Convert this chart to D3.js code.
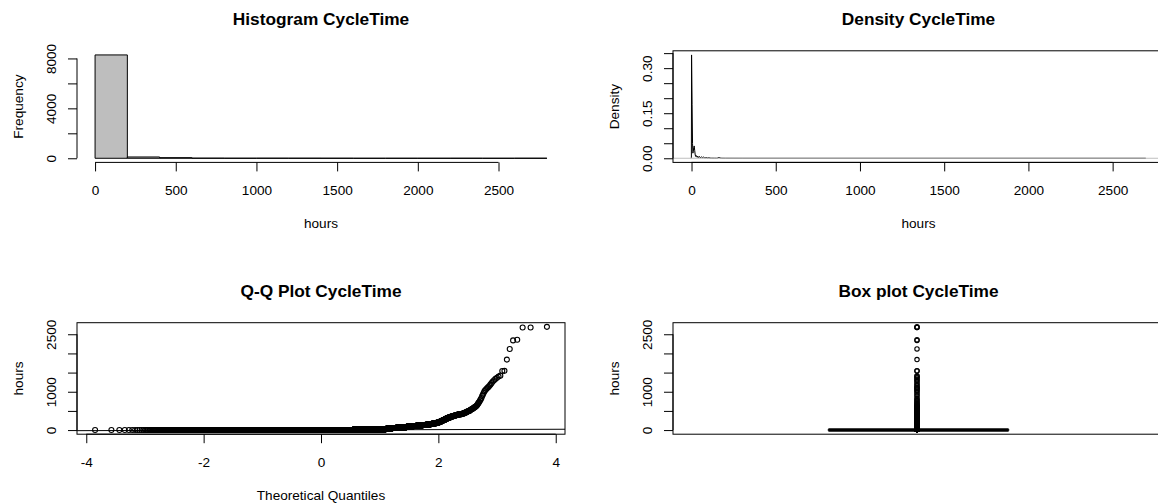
<!DOCTYPE html>
<html><head><meta charset="utf-8">
<script src="https://cdn.jsdelivr.net/npm/d3@7"></script>
<style>
html,body{margin:0;padding:0;background:#fff;}
svg{display:block;}
</style></head><body>
<svg id="chart" width="1158" height="504"></svg>
<script>
// ---------------- data ----------------
const panelTitles = ["Histogram CycleTime", "Density CycleTime", "Q-Q Plot CycleTime", "Box plot CycleTime"];

// bulk of the CycleTime sample: value levels (hours) and how many observations sit at each
const bulkHours = [0, 1, 2, 3, 4, 6, 8, 11, 14, 17, 20, 24, 28, 33, 38, 43,
  48, 55, 62, 70, 78, 86, 94, 100,
  108, 116, 124, 132, 140, 148,
  160, 170, 180, 190, 199, 210,
  225, 240, 255, 270, 285, 298,
  315, 330, 345, 360, 375,
  395, 405, 415, 425,
  445, 460, 475, 490, 505];
const bulkCounts = [3100, 1500, 900, 500, 350, 300, 200, 150, 120, 100, 60, 40, 30, 25, 20, 15,
  110, 100, 90, 80, 70, 50, 40, 36,
  50, 45, 40, 33, 27, 23,
  22, 19, 16, 12, 9, 8,
  10, 9, 8, 7, 6, 6,
  9, 8, 8, 8, 8,
  8, 8, 7, 6,
  4, 4, 3, 3, 3];
// upper tail, one value per observation
const tailHours = [522, 528, 535, 542, 550, 558, 566, 575, 585, 595, 605, 615, 628, 640,
  665, 690, 715, 740, 770, 800, 835,
  890, 930, 975, 1015,
  1045, 1070, 1095, 1120, 1150,
  1185, 1225, 1265, 1300,
  1335, 1365, 1395, 1420,
  1541, 1545, 1839, 2117, 2340, 2357, 2676, 2676, 2694];

// density curve as drawn
const densityHours = [-2, -0.8, 0.3, 3.5, 6, 8, 10.5, 13, 16, 19, 22, 25, 28, 31, 34, 37, 40, 43, 47, 51, 55, 59, 63, 67, 71, 76, 81, 86, 91, 97, 103, 110, 120, 135, 150, 158, 163, 168, 180, 200, 300, 2697];
const densityValues = [0, 0.004, 0.344, 0.178, 0.05, 0.017, 0.022, 0.036, 0.041, 0.025, 0.011, 0.006, 0.009, 0.005, 0.003, 0.007, 0.004, 0.002, 0.006, 0.003, 0.002, 0.005, 0.003, 0.002, 0.004, 0.002, 0.001, 0.003, 0.0015, 0.0008, 0.002, 0.0006, 0.0004, 0.0003, 0.0002, 0.001, 0.004, 0.001, 0.0002, 0.0001, 0, 0];

// histogram breaks and axis ticks
const histBreaks = [0, 200, 400, 600, 800, 1000, 1200, 1400, 1600, 1800, 2000, 2200, 2400, 2600, 2800];
const hoursTicks = [0, 500, 1000, 1500, 2000, 2500];
const hoursTickLabels = ["0", "500", "1000", "1500", "2000", "2500"];
const freqTicks = [0, 2000, 4000, 6000, 8000];
const freqTickLabels = ["0", "", "4000", "", "8000"];
const densTicks = [0, 0.05, 0.10, 0.15, 0.20, 0.25, 0.30, 0.35];
const densTickLabels = ["0.00", "", "", "0.15", "", "", "0.30", ""];
const qqTicks = [-4, -2, 0, 2, 4];
const qqTickLabels = ["-4", "-2", "0", "2", "4"];
const hoursYLabels = ["0", "", "1000", "", "", "2500"];

// ---------------- helpers ----------------
const FONT = "'Liberation Sans', Arial, Helvetica, sans-serif";
const svg = d3.select("#chart");
const ext = ([a, b]) => [a - 0.04 * (b - a), b + 0.04 * (b - a)];

function qnorm(p) {
  const a = [-3.969683028665376e+01, 2.209460984245205e+02, -2.759285104469687e+02, 1.383577518672690e+02, -3.066479806614716e+01, 2.506628277459239e+00];
  const b = [-5.447609879822406e+01, 1.615858368580409e+02, -1.556989798598866e+02, 6.680131188771972e+01, -1.328068155288572e+01];
  const c = [-7.784894002430293e-03, -3.223964580411365e-01, -2.400758277161838e+00, -2.549732539343734e+00, 4.374664141464968e+00, 2.938163982698783e+00];
  const d = [7.784695709041462e-03, 3.224671290700398e-01, 2.445134137142996e+00, 3.754408661907416e+00];
  const pl = 0.02425, ph = 1 - pl;
  let q, r;
  if (p < pl) { q = Math.sqrt(-2 * Math.log(p)); return (((((c[0]*q+c[1])*q+c[2])*q+c[3])*q+c[4])*q+c[5]) / ((((d[0]*q+d[1])*q+d[2])*q+d[3])*q+1); }
  if (p > ph) { q = Math.sqrt(-2 * Math.log(1 - p)); return -(((((c[0]*q+c[1])*q+c[2])*q+c[3])*q+c[4])*q+c[5]) / ((((d[0]*q+d[1])*q+d[2])*q+d[3])*q+1); }
  q = p - 0.5; r = q * q;
  return (((((a[0]*r+a[1])*r+a[2])*r+a[3])*r+a[4])*r+a[5])*q / (((((b[0]*r+b[1])*r+b[2])*r+b[3])*r+b[4])*r+1);
}

// sorted sample
const sample = [];
bulkHours.forEach((h, i) => { for (let k = 0; k < bulkCounts[i]; k++) sample.push(h); });
tailHours.forEach(h => sample.push(h));
sample.sort((a, b) => a - b);
const n = sample.length;

// layout (plot regions)
const LEFT = { l: 77, r: 565 }, RIGHT = { l: 673, r: 1164 };
const TOP = { t: 50.8, b: 162.4 }, BOT = { t: 322.7, b: 434.2 };

function title(cx, r, txt) {
  svg.append("text").attr("x", cx).attr("y", r.t - 25.8).attr("text-anchor", "middle")
    .attr("font-family", FONT).attr("font-weight", "bold").attr("font-size", 17.3).attr("fill", "#000").text(txt);
}
function xTitle(cx, r, txt) {
  svg.append("text").attr("x", cx).attr("y", r.b + 66).attr("text-anchor", "middle")
    .attr("font-family", FONT).attr("font-size", 13.6).attr("fill", "#000").text(txt);
}
function yTitle(c, r, txt) {
  const cy = (r.t + r.b) / 2, x = c.l - 53.7;
  svg.append("text").attr("transform", `translate(${x},${cy}) rotate(-90)`).attr("text-anchor", "middle")
    .attr("font-family", FONT).attr("font-size", 13.6).attr("fill", "#000").text(txt);
}
function bottomAxis(scale, ticks, labels, yPos) {
  const ax = d3.axisBottom(scale).tickValues(ticks).tickSize(9).tickSizeOuter(0).tickPadding(14)
    .tickFormat((d, i) => labels[i]);
  const a = svg.append("g").attr("transform", `translate(0,${yPos})`).call(ax);
  a.attr("font-family", FONT).attr("font-size", 13.6);
  a.select(".domain").remove();
  a.append("line").attr("x1", scale(ticks[0])).attr("x2", scale(ticks[ticks.length - 1]))
    .attr("stroke", "#000");
  a.selectAll(".tick line").attr("stroke", "#000");
  a.selectAll(".tick text").attr("fill", "#000");
}
function leftAxis(scale, ticks, labels, xPos) {
  const ax = d3.axisLeft(scale).tickValues(ticks).tickSize(9).tickSizeOuter(0)
    .tickFormat((d, i) => labels[i]);
  const a = svg.append("g").attr("transform", `translate(${xPos},0)`).call(ax);
  a.attr("font-family", FONT).attr("font-size", 13.6);
  a.select(".domain").remove();
  a.append("line").attr("y1", scale(ticks[0])).attr("y2", scale(ticks[ticks.length - 1]))
    .attr("stroke", "#000");
  a.selectAll(".tick line").attr("stroke", "#000");
  a.selectAll(".tick text").attr("fill", "#000").attr("x", 0).attr("y", -21.3).attr("dy", null)
    .attr("text-anchor", "middle").attr("transform", "rotate(-90)");
}
function frame(c, r) {
  svg.append("rect").attr("x", c.l).attr("y", r.t).attr("width", c.r - c.l).attr("height", r.b - r.t)
    .attr("fill", "none").attr("stroke", "#000").attr("stroke-width", 1);
}

// ---------------- 1. Histogram ----------------
{
  const counts = histBreaks.slice(1).map(() => 0);
  sample.forEach(v => {
    let idx = Math.max(0, Math.ceil(v / (histBreaks[1] - histBreaks[0])) - 1);
    counts[Math.min(idx, counts.length - 1)]++;
  });
  const x = d3.scaleLinear().domain(ext([histBreaks[0], histBreaks[histBreaks.length - 1]])).range([LEFT.l, LEFT.r]);
  const y = d3.scaleLinear().domain(ext([0, d3.max(counts)])).range([TOP.b, TOP.t]);
  svg.append("g").selectAll("path").data(counts).join("path")
    .attr("d", (c, i) => {
      const p = d3.path();
      p.moveTo(x(histBreaks[i]), y(0)); p.lineTo(x(histBreaks[i]), y(c));
      p.lineTo(x(histBreaks[i + 1]), y(c)); p.lineTo(x(histBreaks[i + 1]), y(0)); p.closePath();
      return p.toString();
    })
    .attr("fill", "#BEBEBE").attr("stroke", "#000").attr("stroke-width", 1);
  bottomAxis(x, hoursTicks, hoursTickLabels, TOP.b);
  leftAxis(y, freqTicks, freqTickLabels, LEFT.l);
  title((LEFT.l + LEFT.r) / 2, TOP, panelTitles[0]);
  xTitle((LEFT.l + LEFT.r) / 2, TOP, "hours");
  yTitle(LEFT, TOP, "Frequency");
}

// ---------------- 2. Density ----------------
{
  const x = d3.scaleLinear().domain(ext(d3.extent(densityHours))).range([RIGHT.l, RIGHT.r]);
  const y = d3.scaleLinear().domain(ext([0, d3.max(densityValues)])).range([TOP.b, TOP.t]);
  const pts = densityHours.map((h, i) => [h, densityValues[i]]);
  svg.append("path").attr("d", d3.line().x(d => x(d[0])).y(d => y(d[1]))(pts))
    .attr("fill", "none").attr("stroke", "#000").attr("stroke-width", 1);
  // zero line drawn on top, in gray
  svg.append("line").attr("x1", RIGHT.l).attr("x2", RIGHT.r).attr("y1", y(0)).attr("y2", y(0))
    .attr("stroke", "#BEBEBE").attr("stroke-width", 1.2);
  frame(RIGHT, TOP);
  bottomAxis(x, hoursTicks, hoursTickLabels, TOP.b);
  leftAxis(y, densTicks, densTickLabels, RIGHT.l);
  title((RIGHT.l + RIGHT.r) / 2, TOP, panelTitles[1]);
  xTitle((RIGHT.l + RIGHT.r) / 2, TOP, "hours");
  yTitle(RIGHT, TOP, "Density");
}

// ---------------- 3. Q-Q plot ----------------
{
  const theo = sample.map((v, i) => qnorm((i + 1 - 0.5) / n));
  const x = d3.scaleLinear().domain(ext(d3.extent(theo))).range([LEFT.l, LEFT.r]);
  const y = d3.scaleLinear().domain(ext(d3.extent(sample))).range([BOT.b, BOT.t]);
  const clipId = "qqclip";
  svg.append("clipPath").attr("id", clipId).append("rect")
    .attr("x", LEFT.l).attr("y", BOT.t).attr("width", LEFT.r - LEFT.l).attr("height", BOT.b - BOT.t);
  svg.append("g").selectAll("circle").data(sample).join("circle")
    .attr("cx", (v, i) => x(theo[i])).attr("cy", v => y(v)).attr("r", 2.5)
    .attr("fill", "none").attr("stroke", "#000").attr("stroke-width", 1.1);
  // qqline through the quartiles
  const q1 = d3.quantileSorted(sample, 0.25), q3 = d3.quantileSorted(sample, 0.75);
  const z1 = qnorm(0.25), z3 = qnorm(0.75);
  const slope = (q3 - q1) / (z3 - z1), icpt = q1 - slope * z1;
  const [xa, xb] = x.domain();
  svg.append("line").attr("clip-path", `url(#${clipId})`)
    .attr("x1", x(xa)).attr("x2", x(xb)).attr("y1", y(icpt + slope * xa)).attr("y2", y(icpt + slope * xb))
    .attr("stroke", "#000").attr("stroke-width", 1);
  frame(LEFT, BOT);
  bottomAxis(x, qqTicks, qqTickLabels, BOT.b);
  leftAxis(y, hoursTicks, hoursYLabels, LEFT.l);
  title((LEFT.l + LEFT.r) / 2, BOT, panelTitles[2]);
  xTitle((LEFT.l + LEFT.r) / 2, BOT, "Theoretical Quantiles");
  yTitle(LEFT, BOT, "hours");
}

// ---------------- 4. Box plot ----------------
{
  // Tukey five-number summary (as R's fivenum)
  const n4 = Math.floor((n + 3) / 2) / 2;
  const dpos = [1, n4, (n + 1) / 2, n + 1 - n4, n];
  const five = dpos.map(d => 0.5 * (sample[Math.floor(d) - 1] + sample[Math.ceil(d) - 1]));
  const iqr = five[3] - five[1];
  const hiFence = five[3] + 1.5 * iqr, loFence = five[1] - 1.5 * iqr;
  const inside = sample.filter(v => v >= loFence && v <= hiFence);
  const wLo = d3.min(inside), wHi = d3.max(inside);
  const outliers = sample.filter(v => v < loFence || v > hiFence);

  const x = d3.scaleLinear().domain([0.5, 1.5]).range([RIGHT.l, RIGHT.r]);
  const y = d3.scaleLinear().domain(ext(d3.extent(sample))).range([BOT.b, BOT.t]);
  const boxHalf = 0.1835, stapleHalf = boxHalf / 2;
  const g = svg.append("g");
  g.append("line").attr("x1", x(1)).attr("x2", x(1)).attr("y1", y(five[3])).attr("y2", y(wHi))
    .attr("stroke", "#000").attr("stroke-dasharray", "4,3");
  g.append("line").attr("x1", x(1)).attr("x2", x(1)).attr("y1", y(five[1])).attr("y2", y(wLo))
    .attr("stroke", "#000").attr("stroke-dasharray", "4,3");
  [wLo, wHi].forEach(w => g.append("line").attr("x1", x(1 - stapleHalf)).attr("x2", x(1 + stapleHalf))
    .attr("y1", y(w)).attr("y2", y(w)).attr("stroke", "#000"));
  g.append("rect").attr("x", x(1 - boxHalf)).attr("width", x(1 + boxHalf) - x(1 - boxHalf))
    .attr("y", y(five[3])).attr("height", Math.max(0, y(five[1]) - y(five[3])))
    .attr("fill", "#fff").attr("stroke", "#000").attr("stroke-width", 1.3);
  g.append("line").attr("x1", x(1 - boxHalf)).attr("x2", x(1 + boxHalf))
    .attr("y1", y(five[2])).attr("y2", y(five[2])).attr("stroke", "#000").attr("stroke-width", 3.6);
  g.append("g").selectAll("circle").data(outliers).join("circle")
    .attr("cx", x(1) - 1.5).attr("cy", v => y(v)).attr("r", 2.2)
    .attr("fill", "none").attr("stroke", "#000").attr("stroke-width", 1.1);
  frame(RIGHT, BOT);
  leftAxis(y, hoursTicks, hoursYLabels, RIGHT.l);
  title((RIGHT.l + RIGHT.r) / 2, BOT, panelTitles[3]);
  yTitle(RIGHT, BOT, "hours");
}
</script>
</body></html>
